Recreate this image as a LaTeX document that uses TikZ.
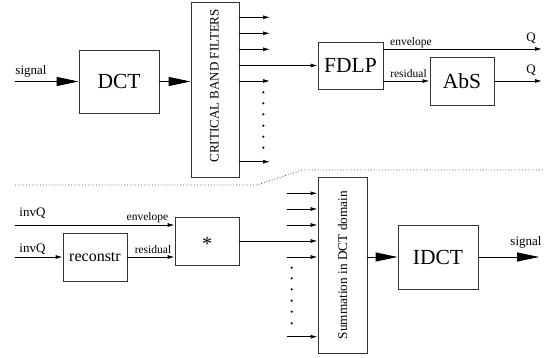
\documentclass[tikz,border=0pt]{standalone}
\usepackage{fontspec}
\setmainfont{Liberation Serif}
\usetikzlibrary{arrows.meta}

\tikzset{
  block/.style={draw, line width=0.9pt, draw=black!80, rectangle, inner sep=0pt, anchor=center},
  bigfont/.style={font=\fontsize{21.5}{22}\selectfont},
  midfont/.style={font=\fontsize{16}{17}\selectfont},
  lblfont/.style={font=\fontsize{13}{13}\selectfont},
  tinyfont/.style={font=\fontsize{11.5}{12}\selectfont},
  wire/.style={line width=0.9pt},
  smallarrow/.style={wire, -{Latex[length=7pt,width=4pt]}},
  bigarrow/.style={wire, -{Triangle[length=22pt,width=9pt]}},
  dotmark/.style={fill=black},
  sep/.style={dotted, line width=0.8pt, black!70},
  tag/.style={inner sep=0pt, anchor=center}
}

\begin{document}
\begin{tikzpicture}[x=1pt, y=-1pt]
\useasboundingbox (0,0) rectangle (560,358);

% ---------- analysis chain ----------
\node[block, bigfont, minimum width=80pt, minimum height=63pt] (dct) at (119,81.5) {DCT};
\node[block, minimum width=48pt, minimum height=175pt] (cbf) at (215,89.5) {};
\node[tag, rotate=90, font=\fontsize{13}{13}\selectfont] (cbftxt) at (214.5,85.8) {CRITICAL BAND FILTERS};
\node[block, bigfont, minimum width=65pt, minimum height=47pt] (fdlp) at (350.5,65.5) {FDLP};
\node[block, bigfont, minimum width=64pt, minimum height=48pt] (abs) at (462,81) {AbS};

\coordinate (sigin) at (15,81.5);
\draw[bigarrow] (sigin) -- (dct.west);
\node[tag, lblfont] (siglbl) at (31,71) {signal};
\draw[bigarrow] (dct.east) -- (dct.east -| cbf.west);

% band outputs
\coordinate (b1) at (270,17.3);
\coordinate (b2) at (270,33.3);
\coordinate (b3) at (270,49.3);
\coordinate (b5) at (270,81);
\coordinate (b6) at (270,161.7);
\foreach \b in {b1,b2,b3,b5,b6}
  \draw[smallarrow] (\b -| cbf.east) -- (\b);
\draw[smallarrow] (fdlp.west -| cbf.east) -- (fdlp.west);
\foreach \y in {92.3,103.3,114.3,125.7,136.7,147.7}
  \fill[dotmark] (263.3,\y) circle (1.2pt);

% FDLP outputs
\coordinate (qenv) at (542,49);
\coordinate (qres) at (542,81);
\draw[smallarrow] (qenv -| fdlp.east) -- (qenv);
\node[tag, tinyfont] (envlbl) at (411,43) {envelope};
\draw[smallarrow] (abs.west -| fdlp.east) -- (abs.west);
\node[tag, tinyfont] (reslbl) at (408.5,74) {residual};
\draw[smallarrow] (abs.east) -- (qres);
\node[tag, lblfont] (q1) at (531,38) {Q};
\node[tag, lblfont] (q2) at (531,70) {Q};

% ---------- separator ----------
\coordinate (s1) at (15,185);
\coordinate (s2) at (257,185);
\coordinate (s3) at (302,170);
\coordinate (s4) at (543,170);
\draw[sep] (s1) -- (s2) -- (s3) -- (s4);

% ---------- synthesis chain ----------
\node[block, midfont, minimum width=64pt, minimum height=48pt] (recon) at (95,257) {reconstr};
\node[block, minimum width=64pt, minimum height=48pt] (star) at (207,241) {};
\node[tag, font=\fontsize{20}{20}\selectfont] (startxt) at (207,244) {*};
\node[block, minimum width=49pt, minimum height=176pt] (sum) at (342.5,265)
  {\rotatebox{90}{\fontsize{13.3}{13.3}\selectfont Summation in DCT domain}};
\node[block, bigfont, minimum width=80pt, minimum height=64pt] (idct) at (438,257) {IDCT};

\coordinate (inenv) at (15,225);
\coordinate (inres) at (15,257);
\node[tag, lblfont] (iq1) at (32.5,213) {invQ};
\node[tag, lblfont] (iq2) at (32.5,249) {invQ};
\draw[smallarrow] (inenv) -- (inenv -| star.west);
\node[tag, tinyfont] (envlbl2) at (147.5,218) {envelope};
\draw[smallarrow] (inres) -- (recon.west);
\draw[smallarrow] (recon.east) -- (recon.east -| star.west);
\node[tag, tinyfont] (reslbl2) at (153,250) {residual};
\draw[smallarrow] (star.east) -- (star.east -| sum.west);

% band inputs
\coordinate (c1) at (287,193.3);
\coordinate (c2) at (287,209);
\coordinate (c3) at (287,225);
\coordinate (c5) at (287,257);
\coordinate (c6) at (287,336.7);
\foreach \c in {c1,c2,c3,c5,c6}
  \draw[smallarrow] (\c) -- (\c -| sum.west);
\foreach \y in {267.7,278.3,289.3,300.7,311.7,323.3}
  \fill[dotmark] (291.7,\y) circle (1.2pt);

\draw[bigarrow] (idct.west -| sum.east) -- (idct.west);
\coordinate (sigout) at (539,257);
\draw[bigarrow] (idct.east) -- (sigout);
\node[tag, lblfont] (siglbl2) at (526,242) {signal};
\end{tikzpicture}
\end{document}
